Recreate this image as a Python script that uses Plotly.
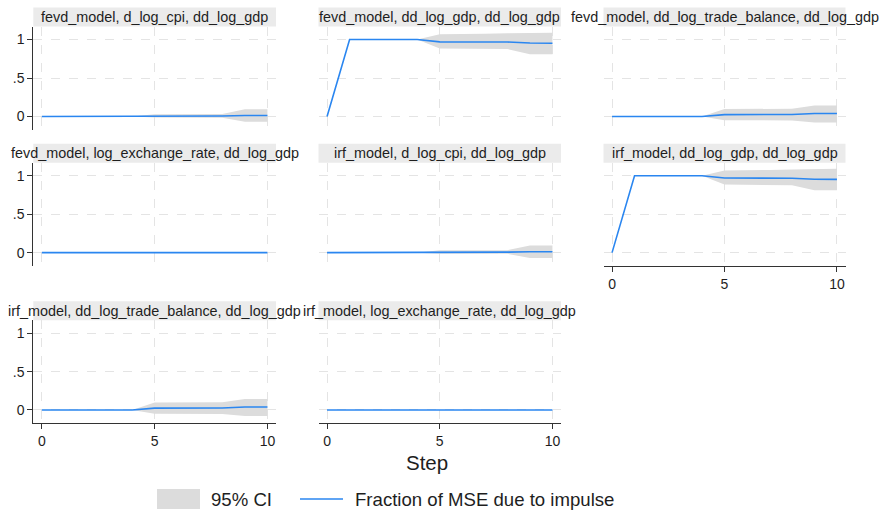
import plotly.graph_objects as go

W, H = 879, 517
FONT = "Liberation Sans, Arial, sans-serif"

steps = list(range(11))

panel_titles = [
    "fevd_model, d_log_cpi, dd_log_gdp",
    "fevd_model, dd_log_gdp, dd_log_gdp",
    "fevd_model, dd_log_trade_balance, dd_log_gdp",
    "fevd_model, log_exchange_rate, dd_log_gdp",
    "irf_model, d_log_cpi, dd_log_gdp",
    "irf_model, dd_log_gdp, dd_log_gdp",
    "irf_model, dd_log_trade_balance, dd_log_gdp",
    "irf_model, log_exchange_rate, dd_log_gdp",
]

# d_log_cpi -> dd_log_gdp
cpi_line = [0, 0, 0, 0, 0, 0.005, 0.005, 0.005, 0.006, 0.012, 0.012]
cpi_hi = [0, 0, 0, 0, 0, 0.03, 0.03, 0.03, 0.032, 0.094, 0.094]
cpi_lo = [0, 0, 0, 0, 0, -0.015, -0.015, -0.015, -0.016, -0.07, -0.07]

# dd_log_gdp -> dd_log_gdp
gdp_line = [0, 1, 1, 1, 1, 0.97, 0.97, 0.97, 0.968, 0.955, 0.953]
gdp_hi = [0, 1, 1, 1, 1, 1.07, 1.07, 1.075, 1.083, 1.09, 1.09]
gdp_lo = [0, 1, 1, 1, 1, 0.885, 0.885, 0.883, 0.877, 0.81, 0.81]

# dd_log_trade_balance -> dd_log_gdp
tb_line = [0, 0, 0, 0, 0, 0.024, 0.024, 0.024, 0.026, 0.038, 0.038]
tb_hi = [0, 0, 0, 0, 0, 0.096, 0.096, 0.096, 0.1, 0.142, 0.142]
tb_lo = [0, 0, 0, 0, 0, -0.05, -0.05, -0.05, -0.052, -0.078, -0.078]

# log_exchange_rate -> dd_log_gdp
er_line = [0, 0, 0, 0, 0, 0, 0, 0, 0, 0, 0]
er_hi = [0, 0, 0, 0, 0, 0, 0, 0, 0, 0, 0]
er_lo = [0, 0, 0, 0, 0, 0, 0, 0, 0, 0, 0]

panel_series = [
    (cpi_line, cpi_lo, cpi_hi),
    (gdp_line, gdp_lo, gdp_hi),
    (tb_line, tb_lo, tb_hi),
    (er_line, er_lo, er_hi),
    (cpi_line, cpi_lo, cpi_hi),
    (gdp_line, gdp_lo, gdp_hi),
    (tb_line, tb_lo, tb_hi),
    (er_line, er_lo, er_hi),
]

y_tickvals = [0, 0.5, 1]
y_ticktext = ["0", ".5", "1"]
x_tickvals = [0, 5, 10]

LINE_COLOR = "#2a86f0"
CI_COLOR = "#dcdcdc"
GRID_COLOR = "#e4e4e4"
AXIS_COLOR = "#333333"
STRIP_COLOR = "#ebebeb"
TEXT_COLOR = "#1e1e1e"

col_px = [(33.3, 276.0), (318.5, 561.0), (603.5, 845.5)]
row_px = [(26.5, 129.5), (162.7, 265.7), (320.3, 423.0)]
STRIP_H = 19

x_axes_shown = {5, 6, 7}

fig = go.Figure()
layout = dict(
    width=W, height=H, autosize=False,
    margin=dict(l=0, r=0, t=0, b=0),
    paper_bgcolor="white", plot_bgcolor="white",
    showlegend=False,
    font=dict(family=FONT, color=TEXT_COLOR),
)
shapes = []
annotations = []

for k, title in enumerate(panel_titles):
    r, c = divmod(k, 3)
    s = "" if k == 0 else str(k + 1)
    line, lo, hi = panel_series[k]
    fig.add_trace(go.Scatter(x=steps, y=hi, mode="lines", line=dict(width=0, color=CI_COLOR),
                             xaxis="x" + s, yaxis="y" + s, hoverinfo="skip"))
    fig.add_trace(go.Scatter(x=steps, y=lo, mode="lines", line=dict(width=0, color=CI_COLOR),
                             fill="tonexty", fillcolor=CI_COLOR,
                             xaxis="x" + s, yaxis="y" + s, hoverinfo="skip"))
    fig.add_trace(go.Scatter(x=steps, y=line, mode="lines", line=dict(width=1.6, color=LINE_COLOR),
                             xaxis="x" + s, yaxis="y" + s))
    x0, x1 = col_px[c]
    y0, y1 = row_px[r]
    show_x = k in x_axes_shown
    show_y = c == 0
    layout["xaxis" + s] = dict(
        domain=[x0 / W, x1 / W], range=[-0.38, 10.38], anchor="y" + s,
        tickvals=x_tickvals, showgrid=True, gridcolor=GRID_COLOR, griddash="dash", gridwidth=1,
        zeroline=False, showticklabels=show_x, showline=show_x, linecolor=AXIS_COLOR, linewidth=1,
        ticks="outside" if show_x else "", ticklen=5, tickcolor=AXIS_COLOR,
        tickfont=dict(size=14, color=TEXT_COLOR, family=FONT), fixedrange=True,
    )
    layout["yaxis" + s] = dict(
        domain=[1 - y1 / H, 1 - y0 / H], range=[-0.17, 1.17], anchor="x" + s,
        tickvals=y_tickvals, ticktext=y_ticktext, showgrid=True, gridcolor=GRID_COLOR,
        griddash="dash", gridwidth=1, zeroline=False, showticklabels=show_y, showline=show_y,
        linecolor=AXIS_COLOR, linewidth=1, ticks="outside" if show_y else "", ticklen=5,
        tickcolor=AXIS_COLOR, tickfont=dict(size=14, color=TEXT_COLOR, family=FONT), fixedrange=True,
    )
    shapes.append(dict(type="rect", xref="paper", yref="paper",
                       x0=x0 / W, x1=x1 / W, y0=1 - y0 / H, y1=1 - (y0 - STRIP_H) / H,
                       fillcolor=STRIP_COLOR, line=dict(width=0), layer="below"))
    annotations.append(dict(text=title, xref="paper", yref="paper",
                            x=(x0 + x1) / 2 / W, y=1 - (y0 - STRIP_H / 2) / H,
                            xanchor="center", yanchor="middle", showarrow=False,
                            font=dict(size=14.4, color=TEXT_COLOR, family=FONT)))

# overall x title
annotations.append(dict(text="Step", xref="paper", yref="paper", x=427 / W, y=1 - 462 / H,
                        xanchor="center", yanchor="middle", showarrow=False,
                        font=dict(size=20.5, color=TEXT_COLOR, family=FONT)))

# legend
LEG_Y = 499.5
shapes.append(dict(type="rect", xref="paper", yref="paper", x0=157 / W, x1=200 / W,
                   y0=1 - 509 / H, y1=1 - 489 / H, fillcolor=CI_COLOR, line=dict(width=0)))
annotations.append(dict(text="95% CI", xref="paper", yref="paper", x=209 / W, y=1 - LEG_Y / H,
                        xanchor="left", yanchor="middle", showarrow=False,
                        font=dict(size=18.6, color=TEXT_COLOR, family=FONT)))
shapes.append(dict(type="line", xref="paper", yref="paper", x0=300 / W, x1=343 / W,
                   y0=1 - 499 / H, y1=1 - 499 / H, line=dict(color=LINE_COLOR, width=1.6)))
annotations.append(dict(text="Fraction of MSE due to impulse", xref="paper", yref="paper",
                        x=353 / W, y=1 - LEG_Y / H, xanchor="left", yanchor="middle",
                        showarrow=False, font=dict(size=18.6, color=TEXT_COLOR, family=FONT)))

layout["shapes"] = shapes
layout["annotations"] = annotations
fig.update_layout(**layout)
fig.write_html("out.html")
